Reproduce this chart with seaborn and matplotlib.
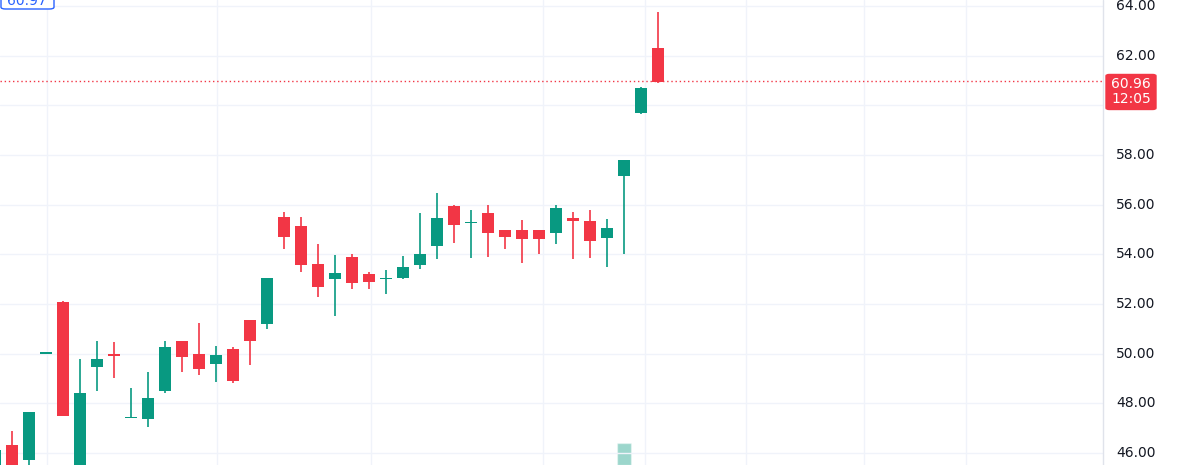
import matplotlib
matplotlib.use("Agg")
import matplotlib.pyplot as plt
import seaborn as sns
import numpy as np
from matplotlib.patches import FancyBboxPatch

sns.set_style("white")
plt.rcParams['font.family'] = ['DejaVu Sans']

opens  = [45.5, 46.3, 45.7, 50.0, 52.08, 45.4, 49.46, 50.0, 47.4, 47.35, 48.5, 50.5, 50.0, 49.6, 50.2, 51.35, 51.2,
          55.5, 55.15, 53.6, 53.0, 53.9, 53.2, 53.0, 53.04, 53.56, 54.33, 55.95, 55.25, 55.66, 54.98, 54.98, 54.98,
          54.86, 55.46, 55.34, 54.66, 57.15, 59.7, 62.3]
closes = [46.1, 45.5, 47.65, 50.0, 47.5, 48.41, 49.8, 49.9, 47.42, 48.2, 50.27, 49.86, 49.4, 49.95, 48.9, 50.5, 53.05,
          54.7, 53.57, 52.7, 53.25, 52.85, 52.9, 53.03, 53.5, 54.0, 55.46, 55.2, 55.32, 54.86, 54.7, 54.6, 54.6,
          55.86, 55.34, 54.54, 55.06, 57.8, 60.7, 60.94]
highs  = [46.2, 46.9, 47.65, 50.0, 52.1, 49.8, 50.5, 50.47, 48.6, 49.25, 50.5, 50.5, 51.23, 50.3, 50.25, 51.35, 53.05,
          55.7, 55.5, 54.4, 53.97, 54.0, 53.3, 53.37, 53.93, 55.66, 56.47, 55.98, 55.8, 56.0, 54.98, 55.38, 54.98,
          56.0, 55.7, 55.8, 55.42, 57.8, 60.75, 63.76]
lows   = [45.3, 45.3, 45.5, 50.0, 47.5, 45.0, 48.5, 49.0, 47.4, 47.05, 48.4, 49.25, 49.14, 48.85, 48.8, 49.54, 51.0,
          54.2, 53.3, 52.3, 51.5, 52.6, 52.6, 52.4, 53.0, 53.4, 53.8, 54.45, 53.85, 53.9, 54.2, 53.65, 54.0,
          54.4, 53.8, 53.85, 53.5, 54.0, 59.65, 60.9]
volumes = [0]*37 + [1.0, 0, 0]
price_ticks = [46, 48, 50, 52, 54, 56, 58, 60, 62, 64]
last_price = 60.96
last_label = "60.96\n12:05"
top_label = "60.97"

UP, DOWN = "#089981", "#f23645"
fig = plt.figure(figsize=(11.8, 4.65), dpi=100)
ax = fig.add_axes([0, 0, 1103/1180, 1])
idx = np.arange(len(opens))
o, c, h, l = map(np.array, (opens, closes, highs, lows))
cols = [UP if cc >= oo else DOWN for oo, cc in zip(o, c)]

# volume
axv = ax.twinx()
axv.bar(idx, volumes, width=0.82, color=UP, alpha=0.4, zorder=1)
axv.set_ylim(0, 22/22*1.0 / (22/465))
axv.set_axis_off()

ax.set_zorder(axv.get_zorder() + 1)
ax.patch.set_visible(False)
ax.vlines(idx, l, h, colors=cols, linewidth=1.2, zorder=3)
bottoms = np.minimum(o, c)
heights = np.maximum(np.abs(c - o), 0.06)
ax.bar(idx, heights, bottom=bottoms, width=0.72, color=cols, zorder=4, linewidth=0)

ax.set_xlim(5/17, 1108/17)
ax.set_ylim(64 - 459/24.83, 64 + 6/24.83)
for px in [47, 217, 371, 543, 645, 746, 864, 966]:
    ax.axvline((px + 5)/17, color="#f0f3fa", lw=1, zorder=0)
for t in price_ticks:
    ax.axhline(t, color="#f0f3fa", lw=1, zorder=0)
ax.axhline(last_price, color=DOWN, lw=1, ls=(0, (1, 2)), zorder=2)
ax.set_xticks([]); ax.set_yticks([])
for s in ax.spines.values():
    s.set_visible(False)

# right axis
fig.add_artist(plt.Line2D([1103/1180]*2, [0, 1], color="#e0e3eb", lw=1))
for t in price_ticks:
    yf = 1 - (6 + (64 - t)*24.83)/465
    fig.text(1116/1180, yf, f"{t:.2f}", fontsize=10, color="#131722", va="center", ha="left")
yb = 1 - (6 + (64 - last_price)*24.83)/465
fig.add_artist(FancyBboxPatch((1106/1180, yb - 28/465), 50/1180, 35/465,
               boxstyle="round,pad=0,rounding_size=0.003", transform=fig.transFigure,
               color=DOWN, zorder=5))
fig.text(1131/1180, yb - 10/465, last_label, fontsize=10, color="white", ha="center", va="center",
         linespacing=1.05, zorder=6)
# top-left label
fig.add_artist(FancyBboxPatch((1/1180, 1 - 9/465), 53/1180, 20/465,
               boxstyle="round,pad=0,rounding_size=0.004", transform=fig.transFigure,
               facecolor="white", edgecolor="#2962ff", lw=1, zorder=5))
fig.text(27/1180, 1 - 1/465, top_label, fontsize=10, color="#2962ff", ha="center", va="center", zorder=6)

fig.savefig("out.png", dpi=100)
